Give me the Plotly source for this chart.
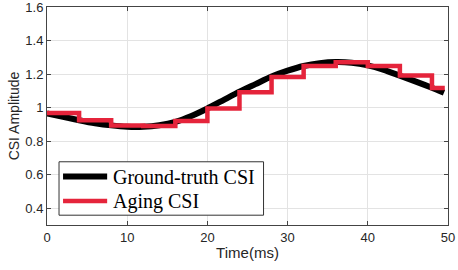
import plotly.graph_objects as go

# Ground-truth CSI
t_true = [0, 2, 4, 6, 8, 10, 12, 14, 16, 18, 20, 22, 24, 26, 28, 30, 32, 34, 36, 38, 40, 42, 44, 46, 48, 49.5]
csi_true = [0.965, 0.945, 0.925, 0.907, 0.894, 0.886, 0.886, 0.895, 0.915, 0.950, 0.995, 1.045, 1.095,
            1.140, 1.185, 1.220, 1.248, 1.265, 1.272, 1.268, 1.252, 1.225, 1.190, 1.155, 1.118, 1.088]

# Aging CSI (step, held values)
t_age = [0, 4, 8, 12, 16, 20, 24, 28, 32, 36, 40, 44, 48, 49.6]
csi_age = [0.968, 0.924, 0.893, 0.890, 0.920, 0.995, 1.091, 1.183, 1.248, 1.271, 1.248, 1.191, 1.117, 1.117]

x_ticks = [0, 10, 20, 30, 40, 50]
y_ticks = [0.4, 0.6, 0.8, 1.0, 1.2, 1.4, 1.6]
y_tick_labels = ["0.4", "0.6", "0.8", "1", "1.2", "1.4", "1.6"]

series_names = ["Ground-truth CSI", "Aging CSI"]
series_colors = ["black", "#E5243B"]
series_widths = [6, 4.5]

fig = go.Figure()
fig.add_trace(go.Scatter(x=t_true, y=csi_true, mode="lines", name=series_names[0],
                         line=dict(color=series_colors[0], width=series_widths[0],
                                   shape="spline", smoothing=0.6)))
fig.add_trace(go.Scatter(x=t_age, y=csi_age, mode="lines", name=series_names[1],
                         line=dict(color=series_colors[1], width=series_widths[1], shape="hv")))

axis_common = dict(showline=True, linecolor="#444444", linewidth=1, mirror="ticks",
                   ticks="inside", ticklen=4, tickcolor="#444444",
                   showgrid=True, gridcolor="#E3E3E3", gridwidth=1, zeroline=False,
                   automargin=False, ticklabeloverflow="allow",
                   tickfont=dict(family="Liberation Sans, Arial", size=13, color="#262626"))

fig.update_xaxes(range=[0, 50], tickvals=x_ticks,
                 title=dict(text="Time(ms)", standoff=3,
                            font=dict(family="Liberation Sans, Arial", size=15, color="#262626")),
                 **axis_common)
fig.update_yaxes(range=[0.3, 1.6], tickvals=y_ticks, ticktext=y_tick_labels,
                 title=dict(text="CSI Amplitude", standoff=2,
                            font=dict(family="Liberation Sans, Arial", size=14, color="#262626")),
                 **axis_common)

# Manual legend box (paper coordinates)
fig.add_shape(type="rect", xref="paper", yref="paper", x0=0.030, x1=0.540, y0=0.045, y1=0.290,
              line=dict(color="#333333", width=1), fillcolor="white", layer="above")
legend_rows = [0.222, 0.110]
for name, color, w, yy in zip(series_names, series_colors, series_widths, legend_rows):
    fig.add_shape(type="line", xref="paper", yref="paper", x0=0.040, x1=0.150, y0=yy, y1=yy,
                  line=dict(color=color, width=w), layer="above")
    fig.add_annotation(xref="paper", yref="paper", x=0.160, y=yy, xanchor="left", yanchor="middle",
                       text=name, showarrow=False,
                       font=dict(family="Liberation Serif, Times New Roman", size=20, color="black"))

fig.update_layout(
    width=458, height=270,
    margin=dict(l=47, r=10, t=7, b=45),
    paper_bgcolor="white", plot_bgcolor="white",
    showlegend=False,
)

fig.write_html("out.html", config={"displayModeBar": False},
               post_script="document.body.style.margin='0px';")
